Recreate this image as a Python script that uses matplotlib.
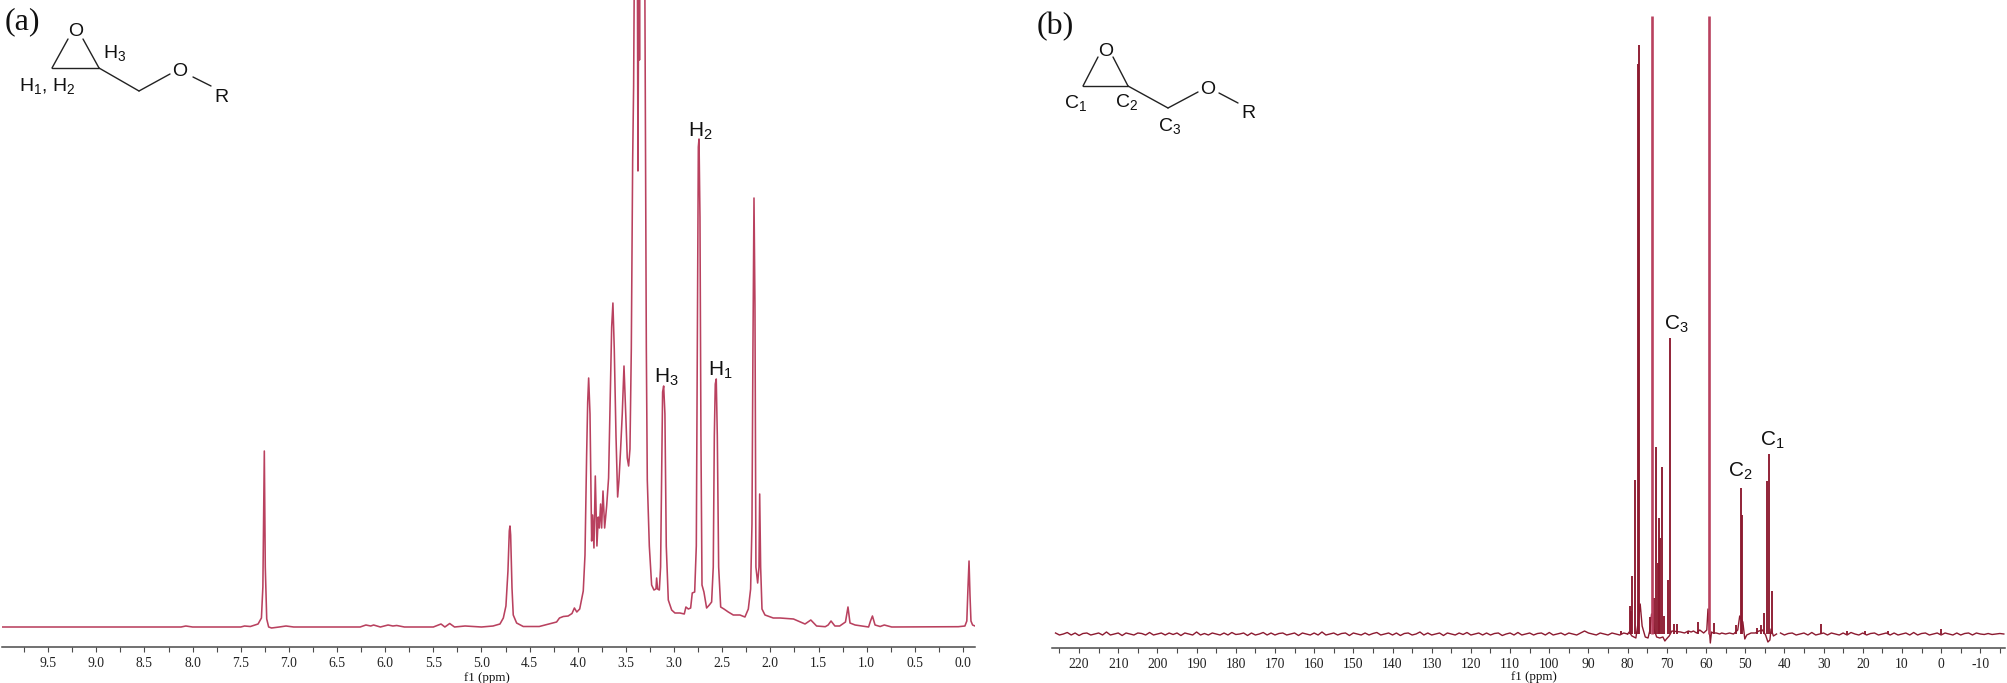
import matplotlib
matplotlib.use("Agg")
import matplotlib.pyplot as plt
from matplotlib.ticker import MultipleLocator

W, H = 2008, 683
plt.rcParams['mathtext.default'] = 'regular'
plt.rcParams['font.family'] = ['Liberation Sans', 'DejaVu Sans']
plt.rcParams['axes.unicode_minus'] = False

# ---- panel (a): 1H spectrum, ppm / intensity
h_ppm = [9.98, 8.12, 8.07, 8.0, 7.5, 7.46, 7.4, 7.32, 7.285, 7.27, 7.255, 7.245, 7.23, 7.21, 7.18, 7.1, 7.03, 6.95,
         6.26, 6.2, 6.15, 6.12, 6.05, 5.97, 5.92, 5.88, 5.8, 5.5, 5.42, 5.38, 5.33, 5.28, 5.17, 5.0, 4.88,
         4.808, 4.773, 4.746, 4.725, 4.711, 4.704, 4.697, 4.683, 4.670, 4.635, 4.566, 4.4, 4.22, 4.19, 4.15, 4.10,
         4.06, 4.035, 4.01, 3.98, 3.943, 3.925, 3.908,
         3.897, 3.887, 3.873, 3.856, 3.846, 3.832, 3.818, 3.801, 3.787, 3.776, 3.763, 3.752, 3.738, 3.721, 3.700,
         3.680, 3.662, 3.648, 3.635, 3.621, 3.603, 3.586, 3.572, 3.555, 3.538, 3.520, 3.510, 3.500, 3.486, 3.472,
         3.458, 3.444, 3.430, 3.420, 3.410, 3.382, 3.375, 3.365, 3.359, 3.354, 3.306, 3.299, 3.288, 3.278, 3.257,
         3.233, 3.209, 3.188, 3.181, 3.171, 3.153, 3.140, 3.129, 3.119, 3.108, 3.095, 3.081, 3.060, 3.025, 2.991,
         2.939, 2.894, 2.877, 2.852, 2.828, 2.811, 2.786, 2.769, 2.759, 2.748, 2.741, 2.731, 2.721, 2.710, 2.690,
         2.662, 2.634, 2.610, 2.593, 2.582, 2.572, 2.562, 2.551, 2.537, 2.516, 2.482, 2.437, 2.385, 2.316, 2.264,
         2.229, 2.205, 2.191, 2.181, 2.170, 2.160, 2.150, 2.132, 2.118, 2.111, 2.101, 2.087, 2.056, 1.970, 1.90,
         1.76, 1.64, 1.58, 1.52, 1.43, 1.40, 1.37, 1.33, 1.28, 1.22, 1.194, 1.173, 1.12, 0.98, 0.96, 0.94, 0.913,
         0.86, 0.817, 0.74, 0.048, -0.02, -0.04, -0.052, -0.063, -0.073, -0.083, -0.10, -0.125]
h_int = [0, 0, 1, 0, 0, 1, 0.5, 3, 9, 40, 176, 60, 8, 0, -1, 0, 1, 0,
         0, 2, 1, 2, 0, 2, 1, 1.5, 0, 0, 3, 0, 3.5, 0, 1, 0, 1,
         3, 9, 21, 56, 96, 101, 92, 39, 12, 4, 0.5, 0.5, 5, 9, 10.5, 11,
         13.5, 19, 15, 18, 36, 72, 172,
         225, 249, 213, 86, 112, 79, 151, 81, 110, 99, 123, 99, 136, 99, 121,
         149, 235, 300, 324, 278, 191, 130, 147, 178, 213, 261, 235, 208, 169, 161,
         178, 278, 467, 541, 700, 700, 456, 700, 567, 700, 700, 541, 278, 147, 81,
         42, 37, 38, 49, 38, 37, 60, 147, 235, 241, 213, 81, 27, 17, 14,
         14, 13, 20, 18, 19, 34, 35, 81, 278, 480, 488, 410, 191, 42, 35,
         19, 22, 25, 60, 191, 243, 248, 191, 60, 20, 18, 15, 12, 12, 10,
         18, 38, 103, 278, 429, 322, 60, 44, 60, 133, 60, 18, 12, 9, 9,
         8, 3, 7, 1, 0.3, 2, 6, 1, 1, 5, 20, 4, 2, 0, 6, 11, 2,
         0.5, 2, 0, 0.3, 1, 6, 39, 66, 32, 6, 2, 1]
h_ticks = [9.5, 9.0, 8.5, 8.0, 7.5, 7.0, 6.5, 6.0, 5.5, 5.0, 4.5, 4.0, 3.5, 3.0, 2.5, 2.0, 1.5, 1.0, 0.5, 0.0]

# ---- panel (b): 13C spectrum
# baseline noise, one reading per ppm, left of the peak region (226 ... 80)
c_noise_left_ppm = list(range(226, 79, -1))
c_noise_left_int = [1, -1, 0, 1.5, -1, 1, -1.5, 0.5, 1, -1, 0, 1, -1, 2, -1, 0, 1, -1.5, 1, 0,
                    -1, 1, 0.5, -1, 1.5, -1, 0, 1, -1, 1, -0.5, 1, -1.5, 1, 0, -1, 2, -1, 0.5, -1,
                    1, 0, -1, 1, -1, 1.5, -0.5, 0, 1, -1.5, 1, -1, 0, 1.5, -1, 1, -1, 0.5, 1, -1,
                    0, 1, -1.5, 1, 0, -1, 1, -1, 2, -1, 0, 1, -1, 0.5, 1, -1.5, 1, 0, -1, 1,
                    -1, 0.5, 1.5, -1, 0, 1, -1, 1, -1.5, 0.5, 1, -1, 0, 2, -1, 1, -1, 0, 1, -1.5,
                    1, 0, -1, 1, -0.5, 1.5, -1, 0, 1, -1, 1, -1, 0.5, 1, -1.5, 0, 1, -1, 1.5, -1,
                    0, 1, -1, 0.5, 1, -1, 1.5, -1, 0, 1, -1, 1, 0, -1, 1, 3, 1, 0, -1, 1,
                    0, -1, 1, 0, -1, 1, 0]
# detailed trace through the peak region
c_mid_ppm = [80, 79.6, 78.9, 77.9, 77.2, 76.8, 76.3, 75.5, 74.8,
             74.3, 73.9, 73.6, 73.3, 72.6, 71.8, 71, 70.5, 70.1, 69.4, 68.7, 66.5, 65.5, 64.5, 63.8, 63.2, 62.4, 61.6,
             60.6, 59.8, 59.5, 58.9, 58.6, 58.2, 57.4, 56.5, 56, 55, 54, 53, 52.7, 51.9, 51.4, 50.6, 50.1, 49.6, 48.5,
             47.4, 46.5, 45.6, 44.8, 44.2, 43.7, 43.4, 42.8, 42]
c_mid_int = [0, 2, -2, -4, 15, 30, 8, -3, -4,
             4, 20, 20, 5, -3, -4, -3, -7, -5, -2, 3, 2, 1, 3, 2, 3, 1, 4,
             1, 4, 25, -9, 2, 1, 1, 0, 1, 0, 1, 0, 1, 4, 18, 12, -5, -1, 1,
             1, 3, 4, -1, -8, -6, 5, -2, 0]
# baseline noise right of the peak region (41 ... -16)
c_noise_right_ppm = list(range(41, -17, -1))
c_noise_right_int = [1, -1, 0.5, 1, -1, 0, 1, -1, 1.5, -1, 0, 1, -1, 1, 0, -1, 1, -1, 1.5, 0,
                     -1, 1, -1, 0.5, 1, -1, 0, 1, -1, 1, -1, 0, 1, -1, 1.5, -1, 0.5, 1, -1, 0,
                     1, -1, 1, 0, -1, 1, -1, 0.5, 1, -1, 1, 0, -0.5, 0.5, -0.5, 0, 0.5, 0]
c_peak_ppm = [79.46, 79.2, 78.78, 78.19, 77.42, 77.0, 74.36, 73.17, 72.66, 72.3, 72.06, 71.8, 71.21, 70.7,
              69.6, 69.17, 68.15, 67.47, 64.5, 61.94, 57.85, 52.3, 51.05, 50.7, 46.96, 45.86, 45.2, 44.4, 44.0, 43.14,
              81.7, 30.7, 24, 19.5, 13.5, 0]
c_peak_int = [28, 23, 58, 154, 570, 589, 17, 36, 187, 71, 116, 96, 167, 18,
              54, 296, 10, 10, 3, 12, 11, 9, 146, 119, 6, 9, 21, 153, 180, 43,
              3, 10, 3, 3, 3, 5]
c_top_ppm = [73.76, 59.2]
c_top_int = [618, 618]
c_ticks = list(range(220, -20, -10))

LINE_A = '#b9415f'
DARK = '#8c1a30'
AXIS = '#4a4a4a'
TICKFONT = ['Liberation Serif', 'DejaVu Serif']


def add_axes(x0, x1, y_axis):
    ax = plt.figure(1).add_axes([x0 / W, 1 - y_axis / H, (x1 - x0) / W, y_axis / H])
    ax.patch.set_alpha(0)
    for s in ('top', 'left', 'right'):
        ax.spines[s].set_visible(False)
    ax.spines['bottom'].set_color(AXIS)
    ax.spines['bottom'].set_linewidth(1.1)
    ax.set_yticks([])
    return ax


fig = plt.figure(1, figsize=(W / 100, H / 100), dpi=100, facecolor='white')

ax1 = add_axes(2, 975, 647)
ax1.plot(h_ppm, h_int, color=LINE_A, lw=1.15, solid_joinstyle='round')
ax1.set_xlim(9.979, -0.125)
ax1.set_ylim(-20, 627)
ax1.set_xticks(h_ticks)
ax1.xaxis.set_minor_locator(MultipleLocator(0.25))

ax2 = add_axes(1052, 2005, 648)
ax2.plot(c_noise_left_ppm, c_noise_left_int, color=DARK, lw=1.0)
ax2.plot(c_mid_ppm, c_mid_int, color=DARK, lw=1.0)
ax2.plot(c_noise_right_ppm, c_noise_right_int, color=DARK, lw=1.0)
ax2.vlines(c_peak_ppm, 0, c_peak_int, color=DARK, lw=1.35)
ax2.vlines(c_top_ppm, 0, c_top_int, color=LINE_A, lw=1.9)
ax2.set_xlim(226.9, -16.3)
ax2.set_ylim(-14, 634)
ax2.set_xticks(c_ticks)
ax2.xaxis.set_minor_locator(MultipleLocator(5))

for ax in (ax1, ax2):
    ax.tick_params(axis='x', which='both', length=3.5, width=0.8, color=AXIS, pad=4,
                   labelsize=9.8, labelcolor='#222222')
    for lab in ax.get_xticklabels():
        lab.set_family(TICKFONT)

# ---- overlay in image pixels: titles, structures, peak labels
ov = fig.add_axes([0, 0, 1, 1])
ov.set_xlim(0, W)
ov.set_ylim(H, 0)
ov.axis('off')
ov.patch.set_alpha(0)


def T(x, y, s, size=14, **kw):
    ov.text(x, y, s, fontsize=size, ha='center', va='center', color=kw.pop('color', '#111111'), **kw)


def bonds(*segs):
    for (xa, ya, xb, yb) in segs:
        ov.plot([xa, xb], [ya, yb], color='#222222', lw=1.0, solid_capstyle='round')


T(487, 678, 'f1 (ppm)', size=9.4, family=TICKFONT)
T(1534, 677, 'f1 (ppm)', size=9.4, family=TICKFONT)
T(22, 22, '(a)', size=23, family=TICKFONT)
T(1055, 27, '(b)', size=23, family=TICKFONT)

bonds((52, 68, 99, 68), (52, 68, 68, 39), (99, 68, 83, 39), (99, 68, 139, 91), (139, 91, 170, 74), (193, 77, 211, 86))
T(76, 32, 'O'); T(180, 72, 'O'); T(221, 97, 'R')
T(115, 53, 'H$_3$'); T(47, 86, 'H$_1$, H$_2$')

bonds((1083, 86, 1128, 86), (1083, 86, 1098, 57), (1128, 86, 1113, 57), (1128, 86, 1168, 108), (1168, 108, 1198, 92),
      (1219, 93, 1238, 103))
T(1106, 51, 'O'); T(1208, 90, 'O'); T(1248, 113, 'R')
T(1076, 103, 'C$_1$'); T(1127, 102, 'C$_2$'); T(1170, 126, 'C$_3$')

T(700, 131, 'H$_2$', size=15); T(666, 377, 'H$_3$', size=15); T(720, 370, 'H$_1$', size=15)
T(1676, 324, 'C$_3$', size=15); T(1740, 471, 'C$_2$', size=15); T(1772, 440, 'C$_1$', size=15)

fig.savefig('out.png', dpi=100)
